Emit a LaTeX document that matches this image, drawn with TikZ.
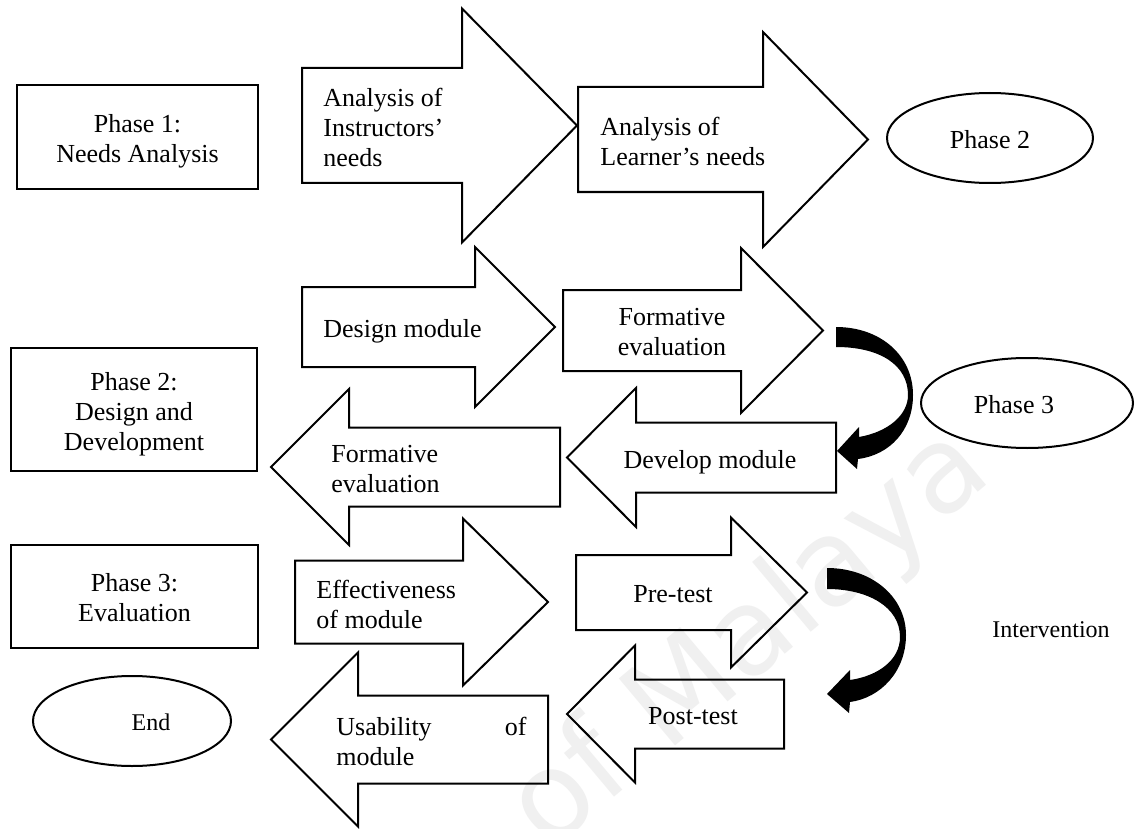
\documentclass[tikz,border=0pt]{standalone}
\usepackage{fontspec}
\setmainfont{Liberation Serif}
\newfontfamily\wmfont{DejaVu Sans}
% block arrow: tail x, head-base x, tip x, centre y, half shaft height, half head height
\newcommand{\blockarrow}[6]{%
  \draw[outline] ({#1},{#4-#5}) -- ({#2},{#4-#5}) -- ({#2},{#4-#6}) -- ({#3},{#4})
    -- ({#2},{#4+#6}) -- ({#2},{#4+#5}) -- ({#1},{#4+#5}) -- cycle;}
\begin{document}
\begin{tikzpicture}[x=0.5pt,y=-0.5pt,
  outline/.style={draw=black, line width=1pt, miter limit=10},
  lbl/.style={inner sep=0pt, font=\fontsize{13}{15}\selectfont},
  small/.style={inner sep=0pt, font=\fontsize{12}{14}\selectfont},
  bentarrow/.style={fill=black, draw=none}]
\clip (0,0) rectangle (1141,829);
\fill[white] (0,0) rectangle (1141,829);

% faint watermark
\node[rotate=40, anchor=base east, text=black!6, inner sep=0pt,
      font=\wmfont\fontsize{60}{60}\selectfont] (wm) at (995,478) {of Malaya};

% phase boxes
\draw[outline] (17,85) rectangle (258,189);
\node[lbl, align=center] (p1) at (137.5,141.4) {Phase 1:\\Needs Analysis};
\draw[outline] (11,348) rectangle (257,471);
\node[lbl, align=center] (p2) at (134,413.9) {Phase 2:\\Design and\\Development};
\draw[outline] (11,545) rectangle (258,648);
\node[lbl, align=center] (p3) at (134.5,598.1) {Phase 3:\\Evaluation};

% row 1
\blockarrow{302}{462}{577}{125.5}{57.5}{117}
\node[lbl, anchor=west, align=left] (t1) at (323,127.1) {Analysis of\\Instructors'\\needs};
\blockarrow{578}{763}{868}{139.5}{52.5}{107.5}
\node[lbl, anchor=west, align=left] (t2) at (600,141.1) {Analysis of\\Learner's needs};
\draw[outline] (990,138) ellipse [x radius=103, y radius=45];
\node[lbl] (e2) at (990,139.6) {Phase 2};

% row 2
\blockarrow{302}{475}{555}{327}{40}{80}
\node[lbl, anchor=west] (t3) at (323,331.4) {Design module};
\blockarrow{563}{741}{823}{330.5}{40.5}{82.5}
\node[lbl, align=center] (t5) at (672,332.1) {Formative\\evaluation};
\blockarrow{560}{349}{271}{467}{39.5}{78}
\node[lbl, anchor=west, align=left] (t4) at (331,468.6) {Formative\\evaluation};
\blockarrow{836}{636}{567}{457.5}{35}{69.5}
\node[lbl] (t6) at (710,461.9) {Develop module};
\draw[outline] (1027,403) ellipse [x radius=106, y radius=45];
\node[lbl] (e3) at (1014,404.6) {Phase 3};

% curved arrow from formative evaluation down to develop module
\fill[bentarrow] (836,327) .. controls (880,327) and (913,355) .. (913,395)
  .. controls (913,430) and (890,455) .. (858,459)
  -- (857,469) -- (837,451) -- (859,427) -- (859,437)
  .. controls (888,432) and (908,415) .. (908,395)
  .. controls (908,365) and (880,347) .. (836,347) -- cycle;

% row 3
\blockarrow{295}{463}{548}{602}{41.5}{83.5}
\node[lbl, anchor=west, align=left] (t7) at (316,604.1) {Effectiveness\\of module};
\blockarrow{576}{731}{807}{592.5}{37.5}{75}
\node[lbl] (t9) at (673,594.4) {Pre-test};
\blockarrow{548}{358}{271}{739.5}{44}{87}
\node[lbl, anchor=west, text width=95pt, align=left] (t8) at (336,741.1) {Usability\hfill of\\module};
\blockarrow{784}{635}{567}{714}{34.5}{68.5}
\node[lbl] (t10) at (693,716.4) {Post-test};

% curved arrow from pre-test down to post-test
\fill[bentarrow] (827,568) .. controls (872,568) and (906,597) .. (906,635)
  .. controls (906,672) and (880,698) .. (850,702)
  -- (849,713) -- (827,694) -- (850,670) -- (850,680)
  .. controls (878,676) and (900,660) .. (900,637)
  .. controls (900,607) and (868,589) .. (827,589) -- cycle;

\node[small] (iv) at (1051,630) {Intervention};

\draw[outline] (132,721) ellipse [x radius=99, y radius=45];
\node[small] (end) at (151,722.5) {End};
\end{tikzpicture}
\end{document}
